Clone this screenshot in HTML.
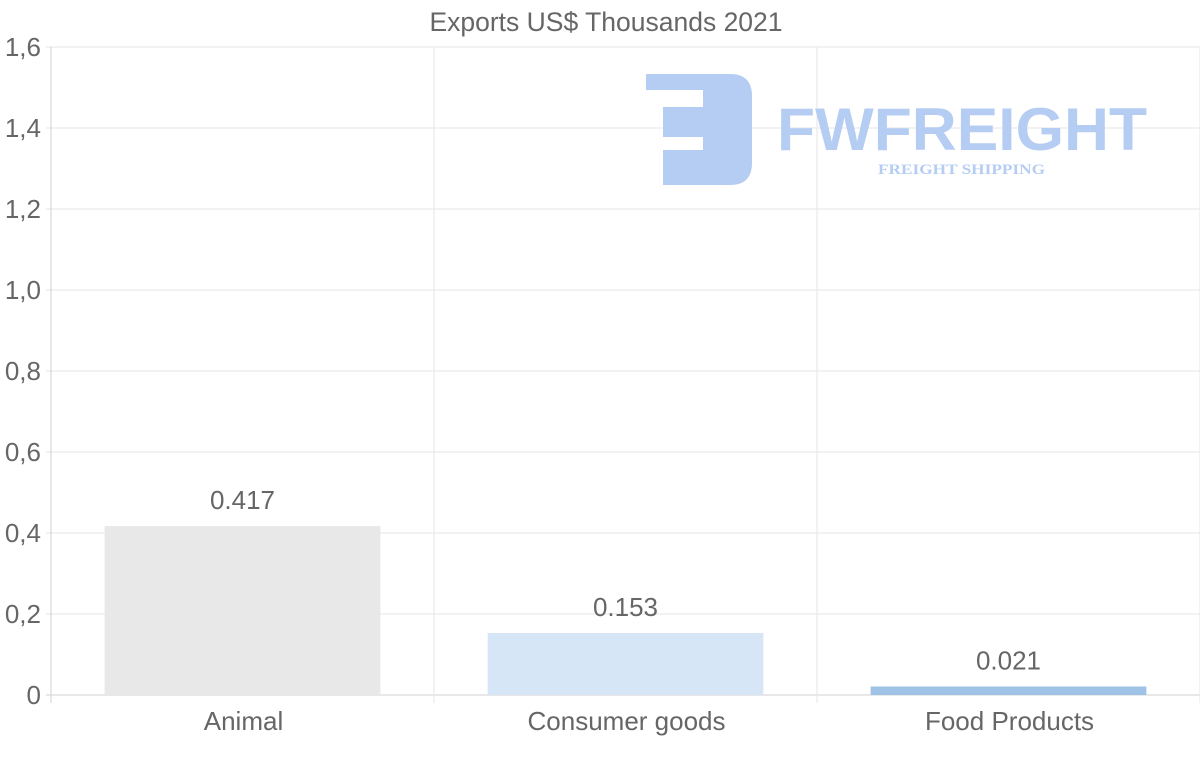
<!DOCTYPE html>
<html><head><meta charset="utf-8"><style>
body{margin:0;background:#fff;}
svg{display:block;font-family:"Liberation Sans",sans-serif;}
</style></head><body>
<svg id="chart" width="1200" height="763">
<text x="606" y="31" text-anchor="middle" font-size="26.5" fill="#666">Exports US$ Thousands 2021</text>
<g id="grid"></g>
<g>
<path d="M646 74 H730 Q752 74 752 96 V163 Q752 185 730 185 H663 V150 H703 V137 H663 V107 H703 V90 H646 Z" fill="#b5cdf3"/>
<text x="777" y="150" font-size="60" font-weight="bold" fill="#b5cdf3" textLength="370" lengthAdjust="spacingAndGlyphs">FWFREIGHT</text>
<text x="878" y="174" font-family="Liberation Serif,serif" font-size="15" font-weight="bold" fill="#b5cdf3" textLength="167" lengthAdjust="spacingAndGlyphs">FREIGHT SHIPPING</text>
</g>
<g id="bars"></g>
</svg>
<script>
const categories = ["Animal", "Consumer goods", "Food Products"];
const values = [0.417, 0.153, 0.021];
const valueLabels = ["0.417", "0.153", "0.021"];
const yTicks = [0, 0.2, 0.4, 0.6, 0.8, 1.0, 1.2, 1.4, 1.6];
const yTickLabels = ["0", "0,2", "0,4", "0,6", "0,8", "1,0", "1,2", "1,4", "1,6"];
const colors = ["#e8e8e8", "#d6e6f7", "#9fc3e6"];
const NS = "http://www.w3.org/2000/svg";
const L = 51, R = 1200, T = 47, B = 695;
const y = v => B - (v / 1.6) * (B - T);
const bw = (R - L) / categories.length;
const x = i => L + i * bw;
function mk(tag, attrs, parent, txt) {
  const e = document.createElementNS(NS, tag);
  for (const k in attrs) e.setAttribute(k, attrs[k]);
  if (txt !== undefined) e.textContent = txt;
  parent.appendChild(e);
  return e;
}
const grid = document.getElementById('grid');
yTicks.forEach((t, i) => {
  const line = mk('line', {x1: L - 5, x2: R, y1: y(t), y2: y(t), stroke: i === 0 ? '#d0d0d0' : '#e6e6e6', 'stroke-width': 1}, grid);
  
  
  const lab = mk('text', {x: 41, y: y(t) + 9, 'text-anchor': 'end', 'font-size': 26, fill: '#666'}, grid, yTickLabels[i]);
  
  
});
for (let i = 0; i <= categories.length; i++) {
  const vl = mk('line', {x1: x(i), x2: x(i), y1: T, y2: B + 8, stroke: i === 0 ? '#d0d0d0' : '#e6e6e6', 'stroke-width': 1}, grid);
  
  
}
const bars = document.getElementById('bars');
categories.forEach((c, i) => {
  const w = bw * 0.72;
  const bx = x(i) + (bw - w) / 2;
  const r = mk('rect', {x: bx, y: y(values[i]), width: w, height: B - y(values[i]), fill: colors[i]}, bars);
  
  
  const vt = mk('text', {x: x(i) + bw / 2, y: y(values[i]) - 17, 'text-anchor': 'middle', 'font-size': 26, fill: '#666'}, bars, valueLabels[i]);
  
  
  const xl = mk('text', {x: x(i) + bw / 2 + 1, y: 730, 'text-anchor': 'middle', 'font-size': 26, fill: '#666'}, bars, c);
  
  
});
</script>
</body></html>
